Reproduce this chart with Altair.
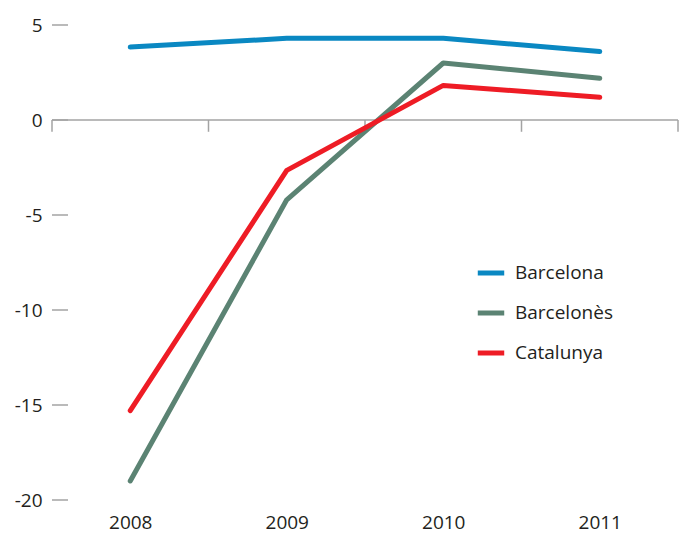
import altair as alt
import pandas as pd

years = [2008, 2009, 2010, 2011]
barcelona = [3.84, 4.3, 4.3, 3.6]
barcelones = [-19.0, -4.2, 3.0, 2.2]
catalunya = [-15.3, -2.65, 1.82, 1.2]
series_names = ["Barcelona", "Barcelonès", "Catalunya"]
series_colors = ["#0a88c2", "#5b8373", "#ee1c25"]
y_ticks = [5, 0, -5, -10, -15, -20]
x_tick_bounds = [2007.5, 2008.5, 2009.5, 2010.5, 2011.5]

rows = []
for name, vals in zip(series_names, [barcelona, barcelones, catalunya]):
    for yr, v in zip(years, vals):
        rows.append({"year": yr, "value": v, "series": name})
df = pd.DataFrame(rows)

FONT = "Open Sans"
GRAY = "#a3a3a3"
TEXT = "#231f20"

xscale = alt.Scale(domain=[2007.5, 2011.5], nice=False, zero=False)
yscale = alt.Scale(domain=[-20, 5], nice=False, zero=False)

xaxis = alt.Axis(values=years, format="d", domain=False, ticks=False, tickSize=0,
                 grid=False, labelPadding=13, title=None)
yaxis = alt.Axis(values=y_ticks, domain=False, ticks=False, tickSize=0,
                 grid=False, labelPadding=10, title=None,
                 labelExpr="replace(datum.label, '\u2212', '-')")

# y tick marks (drawn inside the plot's left edge)
ytick_df = pd.DataFrame({"v": y_ticks})
yticks = alt.Chart(ytick_df).mark_rule(color=GRAY, strokeWidth=1.5).encode(
    x=alt.value(0), x2=alt.value(16),
    y=alt.Y("v:Q", scale=yscale, axis=yaxis),
)

# horizontal axis line at zero
axis_df = pd.DataFrame({"x0": [x_tick_bounds[0]], "x1": [x_tick_bounds[-1]], "y": [0]})
axis_line = alt.Chart(axis_df).mark_rule(color=GRAY, strokeWidth=1.5).encode(
    x=alt.X("x0:Q", scale=xscale, axis=xaxis),
    x2="x1:Q",
    y=alt.Y("y:Q", scale=yscale, axis=yaxis),
)

# category boundary ticks hanging below the zero line
xtick_df = pd.DataFrame({"x": x_tick_bounds, "y0": [0] * 5, "y1": [-0.62] * 5})
xticks = alt.Chart(xtick_df).mark_rule(color=GRAY, strokeWidth=1.5).encode(
    x=alt.X("x:Q", scale=xscale, axis=xaxis),
    y=alt.Y("y0:Q", scale=yscale, axis=yaxis),
    y2="y1:Q",
)

lines = alt.Chart(df).mark_line(strokeWidth=5, strokeCap="round", strokeJoin="round").encode(
    x=alt.X("year:Q", scale=xscale, axis=xaxis),
    y=alt.Y("value:Q", scale=yscale, axis=yaxis),
    color=alt.Color("series:N", scale=alt.Scale(domain=series_names, range=series_colors),
                    legend=alt.Legend(orient="none", legendX=423, legendY=232, title=None,
                                      symbolType="stroke", symbolStrokeWidth=5, symbolSize=700,
                                      labelOffset=8, rowPadding=14, padding=0,
                                      labelFontSize=19, labelFont=FONT, labelColor=TEXT)),
)

chart = alt.layer(yticks, axis_line, xticks, lines).properties(
    width=626, height=475,
    autosize=alt.AutoSizeParams(type="none"),
    padding={"left": 44, "top": 17, "right": 2, "bottom": 33},
).configure_view(stroke=None).configure_axis(
    labelFont=FONT, labelFontSize=19, labelColor=TEXT,
)

chart.save("out.html", embed_options={"renderer": "svg", "actions": False})
